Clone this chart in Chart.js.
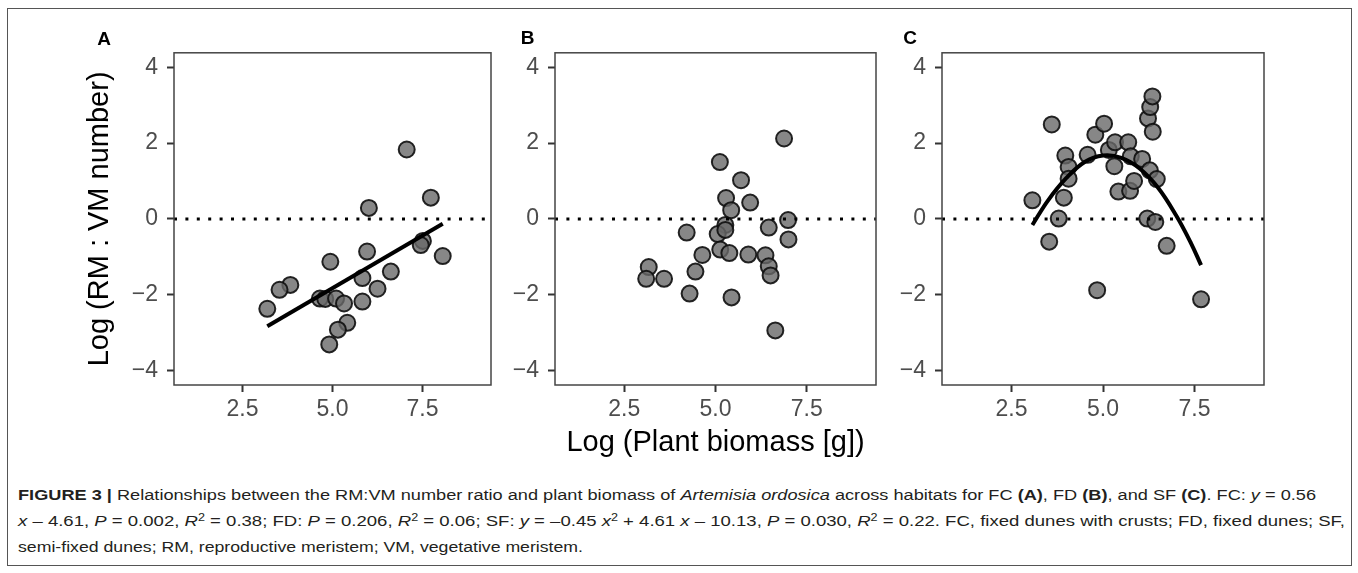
<!DOCTYPE html>
<html><head><meta charset="utf-8">
<script src="https://cdn.jsdelivr.net/npm/chart.js@4.4.1/dist/chart.umd.min.js"></script>
<style>
html,body{margin:0;padding:0;background:#fff;}
body{width:1358px;height:573px;position:relative;overflow:hidden;font-family:'Liberation Sans',Arial,sans-serif;}
#frame{position:absolute;left:7px;top:8px;width:1345px;height:558px;border:1.5px solid #555;box-sizing:border-box;}
canvas{position:absolute;}
.pl{position:absolute;font:bold 19px 'Liberation Sans',Arial,sans-serif;line-height:19px;color:#000;transform:translate(-50%,-50%);}
.ln{position:absolute;left:18px;white-space:nowrap;font-size:15.5px;line-height:20px;color:#231f20;font-family:'Liberation Sans Narrow','Liberation Sans',Arial,sans-serif;transform-origin:0 50%;}
.ln sup{font-size:0.68em;vertical-align:0;position:relative;top:-0.5em;line-height:0;}
</style></head>
<body>
<div id="frame"></div>
<canvas id="cA" width="421" height="432" style="left:80px;top:30px;"></canvas>
<canvas id="cB" width="391" height="432" style="left:495px;top:30px;"></canvas>
<canvas id="cC" width="392" height="432" style="left:882px;top:30px;"></canvas>
<div class="pl" style="left:104px;top:38px;">A</div>
<div class="pl" style="left:527.5px;top:36.5px;">B</div>
<div class="pl" style="left:910px;top:36.5px;">C</div>
<div class="ln" id="l1" style="top:485px;"><b>FIGURE 3 |</b> Relationships between the RM:VM number ratio and plant biomass of <i>Artemisia ordosica</i> across habitats for FC <b>(A)</b>, FD <b>(B)</b>, and SF <b>(C)</b>. FC: <i>y</i> = 0.56</div>
<div class="ln" id="l2" style="top:511px;"><i>x</i> – 4.61, <i>P</i> = 0.002, <i>R</i><sup>2</sup> = 0.38; FD: <i>P</i> = 0.206, <i>R</i><sup>2</sup> = 0.06; SF: <i>y</i> = –0.45 <i>x</i><sup>2</sup> + 4.61 <i>x</i> – 10.13, <i>P</i> = 0.030, <i>R</i><sup>2</sup> = 0.22. FC, fixed dunes with crusts; FD, fixed dunes; SF,</div>
<div class="ln" id="l3" style="top:537px;">semi-fixed dunes; RM, reproductive meristem; VM, vegetative meristem.</div>
<script>
// ---- axis ticks ----
const xTickValues = [2.5, 5.0, 7.5];
const yTickValues = [-4, -2, 0, 2, 4];
const xRange = [0.6, 9.4];
const yRange = [-4.38, 4.38];

// ---- FC (A) ----
const fcBiomass = [7.06, 7.73, 6.01, 7.51, 7.45, 8.06, 5.96, 4.94, 6.62, 5.83, 6.25, 3.83, 3.53, 3.19, 4.65, 4.80, 5.10, 5.32, 5.83, 5.41, 5.15, 4.91];
const fcRatio   = [1.83, 0.56, 0.29, -0.58, -0.69, -0.98, -0.86, -1.13, -1.39, -1.56, -1.84, -1.74, -1.87, -2.37, -2.10, -2.11, -2.10, -2.23, -2.18, -2.74, -2.92, -3.31];
const fcFitX = [3.19, 8.06];
const fcFitY = [-2.83, -0.13];

// ---- FD (B) ----
const fdBiomass = [6.88, 5.12, 5.70, 5.29, 5.95, 5.43, 6.99, 6.46, 5.27, 5.06, 5.27, 4.21, 7.00, 4.64, 5.13, 5.38, 5.90, 6.37, 6.46, 6.51, 3.17, 3.10, 3.59, 4.45, 4.29, 5.44, 6.64];
const fdRatio   = [2.12, 1.50, 1.02, 0.55, 0.43, 0.23, -0.03, -0.23, -0.16, -0.40, -0.29, -0.36, -0.54, -0.95, -0.81, -0.90, -0.94, -0.96, -1.25, -1.49, -1.27, -1.58, -1.58, -1.39, -1.97, -2.07, -2.94];

// ---- SF (C) ----
const sfBiomass = [3.07, 3.53, 3.60, 3.79, 3.93, 3.97, 4.06, 4.06, 4.58, 4.79, 4.84, 5.03, 5.16, 5.33, 5.31, 5.42, 5.69, 5.74, 5.76, 5.85, 6.07, 6.21, 6.23, 6.28, 6.29, 6.35, 6.36, 6.43, 6.47, 6.74, 7.68];
const sfRatio   = [0.49, -0.60, 2.49, 0.01, 0.56, 1.67, 1.37, 1.06, 1.69, 2.22, -1.88, 2.51, 1.82, 2.02, 1.39, 0.72, 2.02, 0.74, 1.65, 1.00, 1.58, 0.01, 2.65, 1.28, 2.95, 3.23, 2.30, -0.08, 1.05, -0.71, -2.12];
const sfFitX = [3.07, 3.5, 4.0, 4.5, 5.0, 5.5, 6.0, 6.5, 7.0, 7.4, 7.68];
const sfFitY = [-0.16, 0.49, 1.08, 1.50, 1.67, 1.61, 1.33, 0.83, 0.09, -0.63, -1.22];

// ---- reference line ----
const refX = [0.6, 9.4];
const refY = [0, 0];

const yTitle = 'Log (RM : VM number)';
const xTitle = 'Log (Plant biomass [g])';

function pts(xs, ys) { return xs.map((x, i) => ({x: x, y: ys[i]})); }

const boxPlugin = {
  id: 'box',
  afterDraw(chart) {
    const ctx = chart.ctx, a = chart.chartArea;
    ctx.save();
    ctx.strokeStyle = '#444';
    ctx.lineWidth = 1.5;
    ctx.strokeRect(a.left, a.top, a.right - a.left, a.bottom - a.top);
    ctx.restore();
  }
};

function fmtY(v) { return v < 0 ? '\u2212' + Math.abs(v) : String(v); }

function panel(id, opt) {
  const datasets = [
    {data: pts(refX, refY), showLine: true, borderColor: '#000', borderWidth: 3, borderDash: [3, 8.4], borderCapStyle: 'butt', pointRadius: 0, order: 0}
  ];
  if (opt.fitX) {
    datasets.push({data: pts(opt.fitX, opt.fitY), showLine: true, borderColor: '#000', borderWidth: 4, pointRadius: 0, tension: 0.4, order: 0});
  }
  datasets.push({data: pts(opt.xs, opt.ys), pointRadius: 8, pointBackgroundColor: 'rgba(105,105,105,0.8)', pointBorderColor: 'rgba(15,15,15,0.9)', pointBorderWidth: 2, order: 1});
  new Chart(document.getElementById(id), {
    type: 'scatter',
    data: {datasets: datasets},
    plugins: [boxPlugin],
    options: {
      responsive: false, animation: false, devicePixelRatio: 1,
      layout: {padding: {top: 18, right: 4, left: 0, bottom: 0}},
      plugins: {legend: {display: false}, tooltip: {enabled: false}},
      scales: {
        x: {
          type: 'linear', min: xRange[0], max: xRange[1],
          afterBuildTicks: s => { s.ticks = xTickValues.map(v => ({value: v})); },
          afterFit: s => { s.height = 77; },
          grid: {drawOnChartArea: false, tickLength: 7, tickWidth: 2, tickColor: '#333', color: '#333'},
          border: {display: false},
          ticks: {padding: 4, color: '#4d4d4d', font: {size: 23, family: "'Liberation Sans', Arial, sans-serif"}, maxRotation: 0, autoSkip: false, callback: v => Number(v).toFixed(1)},
          title: {display: !!opt.xTitle, text: xTitle, color: '#000', font: {size: 29, family: "'Liberation Sans', Arial, sans-serif"}, padding: {top: 0, bottom: 1.6}}
        },
        y: {
          type: 'linear', min: yRange[0], max: yRange[1],
          afterBuildTicks: s => { s.ticks = yTickValues.map(v => ({value: v})); },
          afterFit: s => { s.width = opt.yw; },
          grid: {drawOnChartArea: false, tickLength: 7, tickWidth: 2, tickColor: '#333', color: '#333'},
          border: {display: false},
          ticks: {padding: 9, color: '#4d4d4d', font: {size: 23, family: "'Liberation Sans', Arial, sans-serif"}, autoSkip: false, callback: v => fmtY(v)},
          title: {display: !!opt.yTitle, text: yTitle, color: '#000', font: {size: 29, family: "'Liberation Sans', Arial, sans-serif"}, padding: {top: 3, bottom: 0}}
        }
      }
    }
  });
}

panel('cA', {xs: fcBiomass, ys: fcRatio, fitX: fcFitX, fitY: fcFitY, yw: 94, yTitle: true});
panel('cB', {xs: fdBiomass, ys: fdRatio, yw: 60, xTitle: true});
panel('cC', {xs: sfBiomass, ys: sfRatio, fitX: sfFitX, fitY: sfFitY, yw: 60});

// fit caption lines horizontally to the widths seen in the reference
(function () {
  const targets = {l1: 1298, l2: 1327, l3: 565};
  Object.keys(targets).forEach(id => {
    const el = document.getElementById(id);
    const w = el.getBoundingClientRect().width;
    el.style.transform = 'scaleX(' + (targets[id] / w) + ')';
  });
})();
</script>
</body></html>
